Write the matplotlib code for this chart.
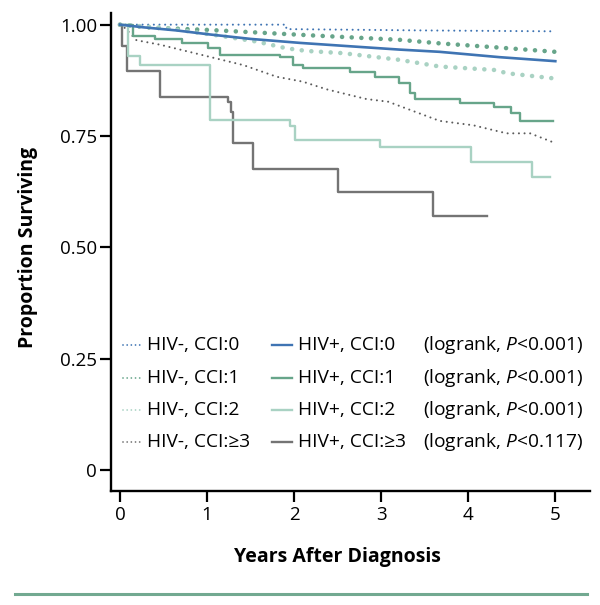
import matplotlib
matplotlib.use("Agg")
import matplotlib.pyplot as plt
from matplotlib.lines import Line2D

plt.rcParams['font.family'] = ['Open Sans', 'DejaVu Sans']
plt.rcParams['mathtext.fontset'] = 'custom'
plt.rcParams['mathtext.rm'] = 'Open Sans'
plt.rcParams['mathtext.it'] = 'Open Sans:italic'

# --- HIV- (dotted, smooth curves) ---
neg0_t = [0, 1.91, 1.91, 3.5, 5.0]
neg0_s = [1.0, 1.0, 0.990, 0.987, 0.985]

neg1_t = [0, 0.38, 1.03, 2.19, 3.21, 3.67, 4.32, 5.0]
neg1_s = [1.0, 0.993, 0.988, 0.976, 0.966, 0.958, 0.949, 0.939]

neg2_t = [0, 0.54, 1.15, 1.57, 1.91, 2.14, 2.56, 3.21, 3.67, 4.32, 4.44, 5.0]
neg2_s = [1.0, 0.992, 0.975, 0.962, 0.947, 0.941, 0.936, 0.921, 0.906, 0.898, 0.891, 0.879]

neg3_t = [0, 0.06, 0.19, 0.46, 0.92, 1.42, 1.80, 2.10, 2.37, 2.64, 2.83, 3.08,
          3.67, 4.06, 4.44, 4.71, 5.0]
neg3_s = [1.0, 0.992, 0.965, 0.955, 0.933, 0.909, 0.883, 0.872, 0.855, 0.842, 0.833, 0.827,
          0.784, 0.774, 0.756, 0.756, 0.734]

# --- HIV+ (solid, Kaplan-Meier steps) ---
pos0_t = [0, 0.27, 0.65, 1.03, 1.5, 2.07, 2.6, 3.21, 3.67, 4.36, 5.0]
pos0_s = [1.0, 0.994, 0.987, 0.978, 0.968, 0.959, 0.952, 0.944, 0.939, 0.927, 0.918]

pos1_t = [0, 0.153, 0.40, 0.71, 1.01, 1.15, 1.84, 1.99, 2.10, 2.64, 2.93, 3.20,
          3.33, 3.39, 3.90, 4.30, 4.49, 4.59, 4.97]
pos1_s = [1.0, 0.974, 0.968, 0.959, 0.948, 0.931, 0.927, 0.910, 0.903, 0.894, 0.882, 0.870,
          0.847, 0.833, 0.824, 0.816, 0.802, 0.783, 0.783]

pos2_t = [0, 0.095, 0.23, 1.03, 1.95, 2.01, 2.99, 4.03, 4.73, 4.94]
pos2_s = [1.0, 0.929, 0.910, 0.787, 0.772, 0.742, 0.725, 0.692, 0.658, 0.658]

pos3_t = [0, 0.02, 0.077, 0.46, 1.24, 1.27, 1.30, 1.53, 2.50, 3.60, 4.21]
pos3_s = [1.0, 0.951, 0.895, 0.838, 0.826, 0.805, 0.734, 0.676, 0.625, 0.571, 0.571]

neg_labels = ['HIV-, CCI:0', 'HIV-, CCI:1', 'HIV-, CCI:2', 'HIV-, CCI:\u22653']
pos_labels = ['HIV+, CCI:0', 'HIV+, CCI:1', 'HIV+, CCI:2', 'HIV+, CCI:\u22653']
p_values = ['0.001', '0.001', '0.001', '0.117']

x_ticks = [0, 1, 2, 3, 4, 5]
y_ticks = [0, 0.25, 0.5, 0.75, 1.0]
y_ticklabels = ['0', '0.25', '0.50', '0.75', '1.00']

BLUE = '#3f74b3'
GREEN = '#67a58a'
LIGHT = '#a9d2c3'
GRAY = '#747474'
GRAY_DOT = '#5c5c5c'
colors = [BLUE, GREEN, LIGHT, GRAY]

fig = plt.figure(figsize=(6.0, 6.05), dpi=100)
ax = fig.add_axes([0.185, 0.1884, 0.798, 0.790])

small_dots = dict(linestyle=(0, (0.01, 2.7)), dash_capstyle='round', linewidth=1.5)
big_dots = dict(linestyle=(0, (0.01, 2.1)), dash_capstyle='round', linewidth=3.3)

# dotted HIV- curves
ax.plot(neg0_t, neg0_s, color=BLUE, **small_dots)
ax.plot(neg1_t, neg1_s, color=GREEN, **big_dots)
ax.plot(neg2_t, neg2_s, color=LIGHT, **big_dots)
ax.plot(neg3_t, neg3_s, color=GRAY_DOT, **small_dots)

# HIV+ curves
ax.step(pos3_t, pos3_s, where='post', color=GRAY, linewidth=1.7)
ax.step(pos2_t, pos2_s, where='post', color=LIGHT, linewidth=1.7)
ax.step(pos1_t, pos1_s, where='post', color=GREEN, linewidth=1.7)
ax.plot(pos0_t, pos0_s, color=BLUE, linewidth=1.9)

ax.set_xlim(-0.103, 5.396)
ax.set_ylim(-0.047, 1.026)
ax.set_xticks(x_ticks)
ax.set_xticklabels([str(v) for v in x_ticks])
ax.set_yticks(y_ticks)
ax.set_yticklabels(y_ticklabels)
ax.tick_params(axis='both', direction='out', length=8, width=1.6, labelsize=13.5, colors='black')
ax.tick_params(axis='y', pad=2)
ax.tick_params(axis='x', pad=3)

for side in ['top', 'right']:
    ax.spines[side].set_visible(False)
for side in ['left', 'bottom']:
    ax.spines[side].set_linewidth(1.7)

ax.set_xlabel('Years After Diagnosis', fontsize=14, fontweight='bold')
ax.set_ylabel('Proportion Surviving', fontsize=14, fontweight='bold')
ax.xaxis.set_label_coords(0.4734, -0.117)
ax.yaxis.set_label_coords(-0.152, 0.51)

# legend drawn by hand: three columns
rows_y = [0.305, 0.236, 0.169, 0.103]
for i in range(4):
    y = rows_y[i]
    ax.add_line(Line2D([0.025, 0.065], [y, y], transform=ax.transAxes, color=colors[i],
                       linestyle=(0, (0.01, 2.3)), dash_capstyle='round', linewidth=1.3))
    ax.text(0.075, y, neg_labels[i], transform=ax.transAxes, fontsize=13.8, va='center', ha='left')
    ax.add_line(Line2D([0.336, 0.378], [y, y], transform=ax.transAxes, color=colors[i], linewidth=1.7))
    ax.text(0.390, y, pos_labels[i], transform=ax.transAxes, fontsize=13.8, va='center', ha='left')
    ax.text(0.651, y, '(logrank, $\\mathit{P}$<' + p_values[i] + ')', transform=ax.transAxes,
            fontsize=13.8, va='center', ha='left')

# green rule under the figure
fig.add_artist(Line2D([15 / 600, 587 / 600], [1 - 594 / 605, 1 - 594 / 605], color='#72a991', linewidth=2.2))

fig.savefig('out.png', dpi=100)
